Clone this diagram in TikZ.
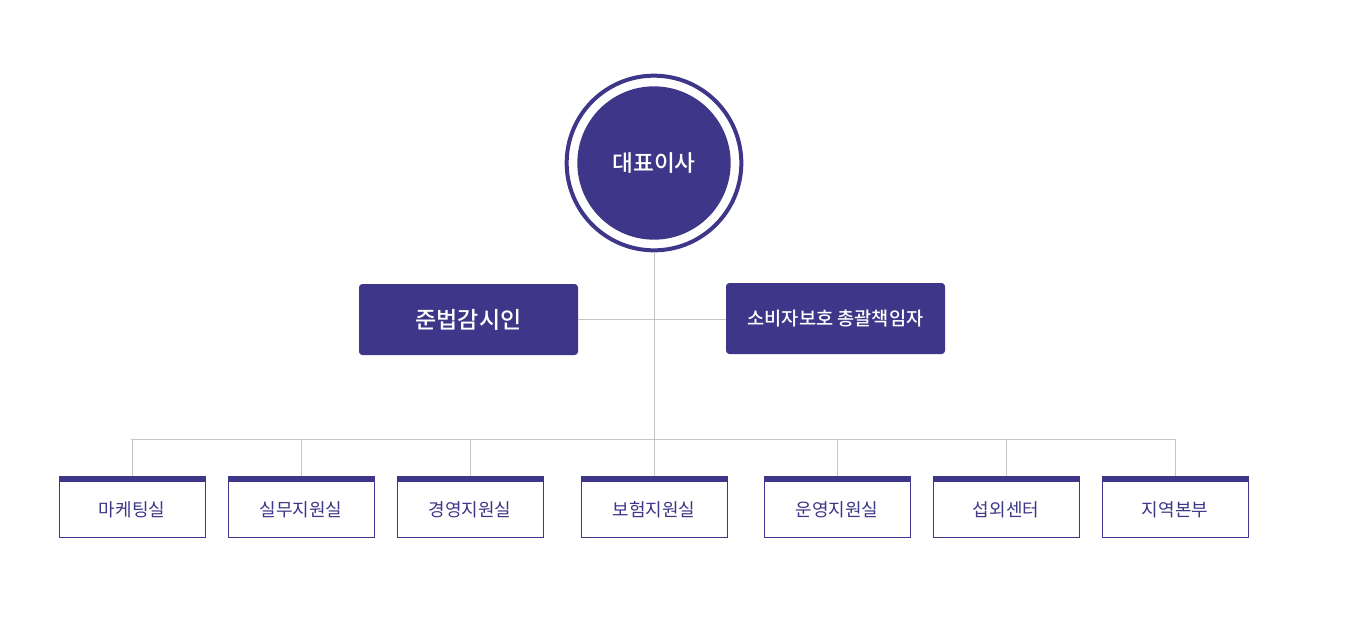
\documentclass[tikz,border=0pt]{standalone}
\usepackage{fontspec}
\setmainfont{Noto Sans CJK KR}
\newfontfamily\krmed{Noto Sans CJK KR Medium}
\definecolor{navy}{HTML}{3E3688}
\definecolor{linegray}{HTML}{C4C4C4}
\begin{document}
\begin{tikzpicture}[x=0.75pt,y=-0.75pt,
  conn/.style={draw=linegray,line width=0.75pt},
  topbox/.style={fill=navy,rounded corners=2.5pt,text=white},
  dept/.style={draw=navy,line width=0.75pt,fill=white,minimum width=109.5pt,minimum height=45.75pt,inner sep=0pt},
  depttext/.style={text=navy,inner sep=0pt,font=\fontsize{13.5}{15}\selectfont},
]
\useasboundingbox (0,0) rectangle (1350,640);
% connectors
\coordinate (hub) at (654,319);
\coordinate (bar) at (654,439);
\coordinate (bl) at (131,439);
\coordinate (br) at (1175,439);
% nodes
\node[circle,draw=navy,line width=3pt,minimum size=131pt,inner sep=0pt] (ceoring) at (654,163) {};
\node[circle,fill=navy,minimum size=115pt,inner sep=0pt,text=white,font=\krmed\fontsize{17}{19}\selectfont] (ceo) at (654,163) {대표이사};
\draw[conn] (ceoring.south) -- (bar);
\node[topbox,minimum width=164.25pt,minimum height=53.25pt,font=\krmed\fontsize{17.25}{19}\selectfont] (comp) at (468.5,319.5) {준법감시인};
\node[topbox,minimum width=164.25pt,minimum height=53.25pt,font=\krmed\fontsize{14}{16}\selectfont] (cons) at (835.5,318.5) {소비자보호 총괄책임자};
\draw[conn] (comp.east |- hub) -- (cons.west |- hub);
\draw[conn] (bl) -- (br);
\foreach \n/\x/\t in {d1/132/마케팅실,d2/301/실무지원실,d3/470/경영지원실,d4/654/보험지원실,d5/837/운영지원실,d6/1006/섭외센터,d7/1175/지역본부}{
  \node[dept] (\n) at (\x,506.5) {};
  \fill[navy] (\n.north west) rectangle ([yshift=-4.5pt]\n.north east);
  \node[depttext] (\n t) at ([yshift=-2.5pt]\n.center) {\t};
  \draw[conn] (\n.north |- bar) -- (\n.north);
}
\end{tikzpicture}
\end{document}
